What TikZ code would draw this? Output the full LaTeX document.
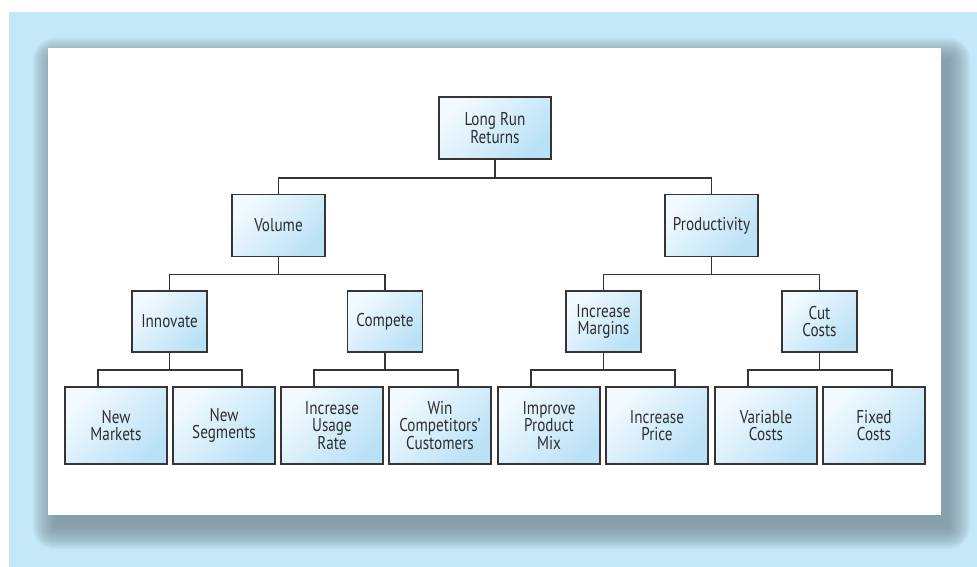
\documentclass[tikz,border=0pt]{standalone}
\usepackage{fontspec}
\setmainfont{PT Sans}[FakeStretch=0.82]
\definecolor{bgblue}{HTML}{C5E8F8}
\definecolor{shadowgray}{HTML}{768895}
\definecolor{boxlight}{HTML}{F2FAFF}
\definecolor{boxblue}{HTML}{BAE1F6}
\definecolor{linegray}{HTML}{353535}
\definecolor{textgray}{HTML}{2E2E2E}

\begin{document}
\begin{tikzpicture}[x=1pt, y=-1pt,
  box/.style={draw=linegray, line width=1.6pt, top color=boxlight, bottom color=boxblue, shading angle=45,
    align=center, inner sep=0pt, text=textgray, font=\fontsize{18.5}{17.5}\selectfont},
  topbox/.style={box, minimum width=112, minimum height=62},
  midbox/.style={box, minimum width=93, minimum height=62},
  subbox/.style={box, minimum width=75, minimum height=61},
  leafbox/.style={box, minimum width=102, minimum height=77},
  link/.style={draw=linegray, line width=1.6pt}]

\useasboundingbox (0,0) rectangle (977,567);
\fill[bgblue] (9,12) rectangle (977,567);
\foreach \r in {22,20,...,0}
  \fill[shadowgray, opacity=0.1, rounded corners=\r] (55-\r,60-\r) rectangle (948+\r,527+\r);
\fill[white] (48,48) rectangle (941,515);

\node[topbox] (ret) at (495,128) {Long Run\\Returns};
\node[midbox] (vol) at (278.5,225.5) {Volume};
\node[midbox] (prod) at (711.5,225.5) {Productivity};
\node[subbox] (inn) at (169.5,321.5) {Innovate};
\node[subbox] (comp) at (385,321.5) {Compete};
\node[subbox] (marg) at (603.5,321.5) {Increase\\Margins};
\node[subbox] (cut) at (819.5,321.5) {Cut\\Costs};
\node[leafbox] (nmkt) at (116,425.5) {New\\Markets};
\node[leafbox] (nseg) at (224,425.5) {New\\Segments};
\node[leafbox] (usage) at (332,425.5) {Increase\\Usage\\Rate};
\node[leafbox] (win) at (440,425.5) {Win\\Competitors'\\Customers};
\node[leafbox] (mix) at (549,425.5) {Improve\\Product\\Mix};
\node[leafbox] (price) at (657,425.5) {Increase\\Price};
\node[leafbox] (var) at (766,425.5) {Variable\\Costs};
\node[leafbox] (fix) at (874,425.5) {Fixed\\Costs};

\draw[link] (ret.south) -- ++(0,18) -| (vol.north);
\draw[link] (ret.south) -- ++(0,18) -| (prod.north);
\draw[link] (vol.south) -- ++(0,17) -| (inn.north);
\draw[link] (vol.south) -- ++(0,17) -| (comp.north);
\draw[link] (prod.south) -- ++(0,17) -| (marg.north);
\draw[link] (prod.south) -- ++(0,17) -| (cut.north);
\draw[link] (inn.south) -- ++(0,17) -| ([xshift=-18pt]nmkt.north);
\draw[link] (inn.south) -- ++(0,17) -| ([xshift=18pt]nseg.north);
\draw[link] (comp.south) -- ++(0,17) -| ([xshift=-18pt]usage.north);
\draw[link] (comp.south) -- ++(0,17) -| ([xshift=18pt]win.north);
\draw[link] (marg.south) -- ++(0,17) -| ([xshift=-18pt]mix.north);
\draw[link] (marg.south) -- ++(0,17) -| ([xshift=18pt]price.north);
\draw[link] (cut.south) -- ++(0,17) -| ([xshift=-18pt]var.north);
\draw[link] (cut.south) -- ++(0,17) -| ([xshift=18pt]fix.north);
\end{tikzpicture}
\end{document}
